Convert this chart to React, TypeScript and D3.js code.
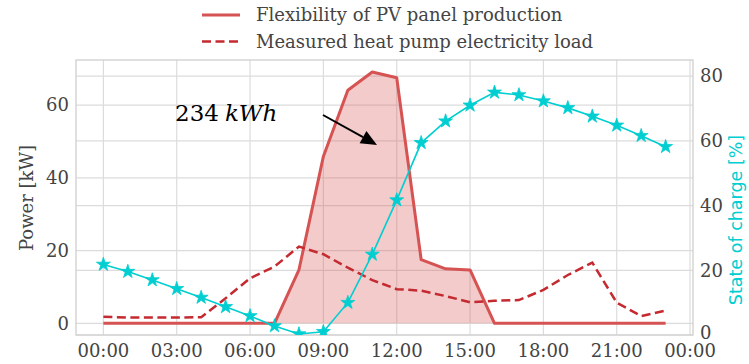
import React from "react";
import * as d3 from "d3";

const hours = [0, 1, 2, 3, 4, 5, 6, 7, 8, 9, 10, 11, 12, 13, 14, 15, 16, 17, 18, 19, 20, 21, 22, 23];
const pvFlex = [0, 0, 0, 0, 0, 0, 0, 0, 14.7, 45.9, 64.1, 69.1, 67.5, 17.5, 15.0, 14.7, 0, 0, 0, 0, 0, 0, 0, 0];
const hpLoad = [1.8, 1.6, 1.6, 1.6, 1.7, 6.9, 12.4, 15.6, 21.1, 19.0, 15.3, 11.9, 9.4, 9.0, 7.5, 5.8, 6.2, 6.4, 9.2, 13.3, 16.7, 5.7, 2.0, 3.5];
const soc = [21.8, 19.6, 17.0, 14.3, 11.6, 8.7, 5.9, 2.8, 0.3, 1.0, 10.0, 24.9, 41.7, 59.4, 66.1, 71.0, 75.0, 74.2, 72.3, 70.2, 67.6, 64.8, 61.6, 58.2];
const xTicks = [0, 3, 6, 9, 12, 15, 18, 21, 24];
const xTickLabels = ["00:00", "03:00", "06:00", "09:00", "12:00", "15:00", "18:00", "21:00", "00:00"];
const leftTicks = [0, 20, 40, 60];
const rightTicks = [0, 20, 40, 60, 80];
const legendLabels = ["Flexibility of PV panel production", "Measured heat pump electricity load"];
const annotationNumber = "234";
const annotationUnit = "kWh";

const W = 749;
const H = 364;
const L = 76, R = 693, T = 60, B = 335;

const RED = "#d65353";
const DARKRED = "#c42a2f";
const CYAN = "#00ced1";
const GRID = "#dcdcdc";
const TXT = "#444";
const SERIF = "'DejaVu Serif', serif";
const FS = 18;

export default function App() {
  const x = d3.scaleLinear().domain([-1.12, 24.12]).range([L, R]);
  const yL = d3.scaleLinear().domain([-3.2, 72.4]).range([B, T]);
  const yR = d3.scaleLinear().domain([0, 85.0]).range([B, T]);

  const pvLine = d3.line<number>().x((_, i) => x(hours[i])).y((d) => yL(d))(pvFlex) || "";
  const pvArea = d3.area<number>().x((_, i) => x(hours[i])).y0(yL(0)).y1((d) => yL(d))(pvFlex) || "";
  const hpLine = d3.line<number>().x((_, i) => x(hours[i])).y((d) => yL(d))(hpLoad) || "";
  const socLine = d3.line<number>().x((_, i) => x(hours[i])).y((d) => yR(d))(soc) || "";
  const star = d3.symbol().type(d3.symbolStar).size(60)() || "";

  // arrow
  const ax0 = 323, ay0 = 115, ax1 = 377, ay1 = 145;
  const ang = Math.atan2(ay1 - ay0, ax1 - ax0);
  const hl = 16, hw = 7;
  const bx = ax1 - hl * Math.cos(ang), by = ay1 - hl * Math.sin(ang);
  const head = `M${ax1},${ay1}L${bx + hw * Math.sin(ang)},${by - hw * Math.cos(ang)}L${bx - hw * Math.sin(ang)},${by + hw * Math.cos(ang)}Z`;

  return (
    <svg width={W} height={H} style={{ position: "absolute", left: 0, top: 0, background: "#fff" }} fontFamily={SERIF}>
      <rect x={0} y={0} width={W} height={H} fill="#fff" />
      <defs>
        <clipPath id="plotclip">
          <rect x={L} y={T} width={R - L} height={B - T} />
        </clipPath>
      </defs>
      {/* grid */}
      {xTicks.map((t) => (
        <line key={"gx" + t} x1={x(t)} x2={x(t)} y1={T} y2={B} stroke={GRID} strokeWidth={1.2} />
      ))}
      {leftTicks.map((t) => (
        <line key={"gl" + t} x1={L} x2={R} y1={yL(t)} y2={yL(t)} stroke={GRID} strokeWidth={1.2} />
      ))}
      {rightTicks.map((t) => (
        <line key={"gr" + t} x1={L} x2={R} y1={yR(t)} y2={yR(t)} stroke={GRID} strokeWidth={1.2} />
      ))}
      <rect x={L} y={T} width={R - L} height={B - T} fill="none" stroke="#cfcfcf" strokeWidth={1.3} />

      <g clipPath="url(#plotclip)">
        <path d={pvArea} fill={RED} fillOpacity={0.3} stroke="none" />
        <path d={pvLine} fill="none" stroke={RED} strokeWidth={3} strokeLinejoin="round" />
        <path d={hpLine} fill="none" stroke={DARKRED} strokeWidth={2.5} strokeDasharray="9,4.5" />
        <path d={socLine} fill="none" stroke={CYAN} strokeWidth={1.6} />
        {soc.map((d, i) => (
          <path key={"s" + i} d={star} transform={`translate(${x(hours[i])},${yR(d)})`} fill={CYAN} stroke={CYAN} strokeWidth={0.8} />
        ))}
      </g>

      {/* x tick labels */}
      {xTicks.map((t, i) => (
        <text key={"xl" + i} x={x(t)} y={B + 22} textAnchor="middle" fontSize={FS} fill={TXT}>
          {xTickLabels[i]}
        </text>
      ))}
      {/* left tick labels */}
      {leftTicks.map((t) => (
        <text key={"ll" + t} x={L - 7} y={yL(t)} dy="0.35em" textAnchor="end" fontSize={FS} fill={TXT}>
          {t}
        </text>
      ))}
      {/* right tick labels */}
      {rightTicks.map((t) => (
        <text key={"rl" + t} x={R + 7} y={yR(t)} dy={t === 0 ? "0.2em" : "0.35em"} textAnchor="start" fontSize={FS} fill={TXT}>
          {t}
        </text>
      ))}
      <text transform={`translate(27,198) rotate(-90)`} textAnchor="middle" dy="0.35em" fontSize={FS} fill={TXT}>
        Power [kW]
      </text>
      <text transform={`translate(736,220) rotate(-90)`} textAnchor="middle" dy="0.35em" fontSize={17.5} fill={CYAN} fontFamily="'DejaVu Sans', sans-serif">
        State of charge [%]
      </text>

      {/* legend */}
      <line x1={202} x2={240} y1={15} y2={15} stroke={RED} strokeWidth={3} />
      <text x={256} y={15} dy="0.35em" fontSize={FS} fill={TXT}>{legendLabels[0]}</text>
      <line x1={202} x2={240} y1={41.5} y2={41.5} stroke={DARKRED} strokeWidth={2.5} strokeDasharray="9,4.5" />
      <text x={256} y={41.5} dy="0.35em" fontSize={FS} fill={TXT}>{legendLabels[1]}</text>

      {/* annotation */}
      <text x={175} y={121} fontSize={23} fill="#000" fontFamily={SERIF}>
        {annotationNumber}
        <tspan dx={6} fontStyle="italic">{annotationUnit}</tspan>
      </text>
      <line x1={ax0} y1={ay0} x2={bx} y2={by} stroke="#000" strokeWidth={2} />
      <path d={head} fill="#000" />
    </svg>
  );
}
